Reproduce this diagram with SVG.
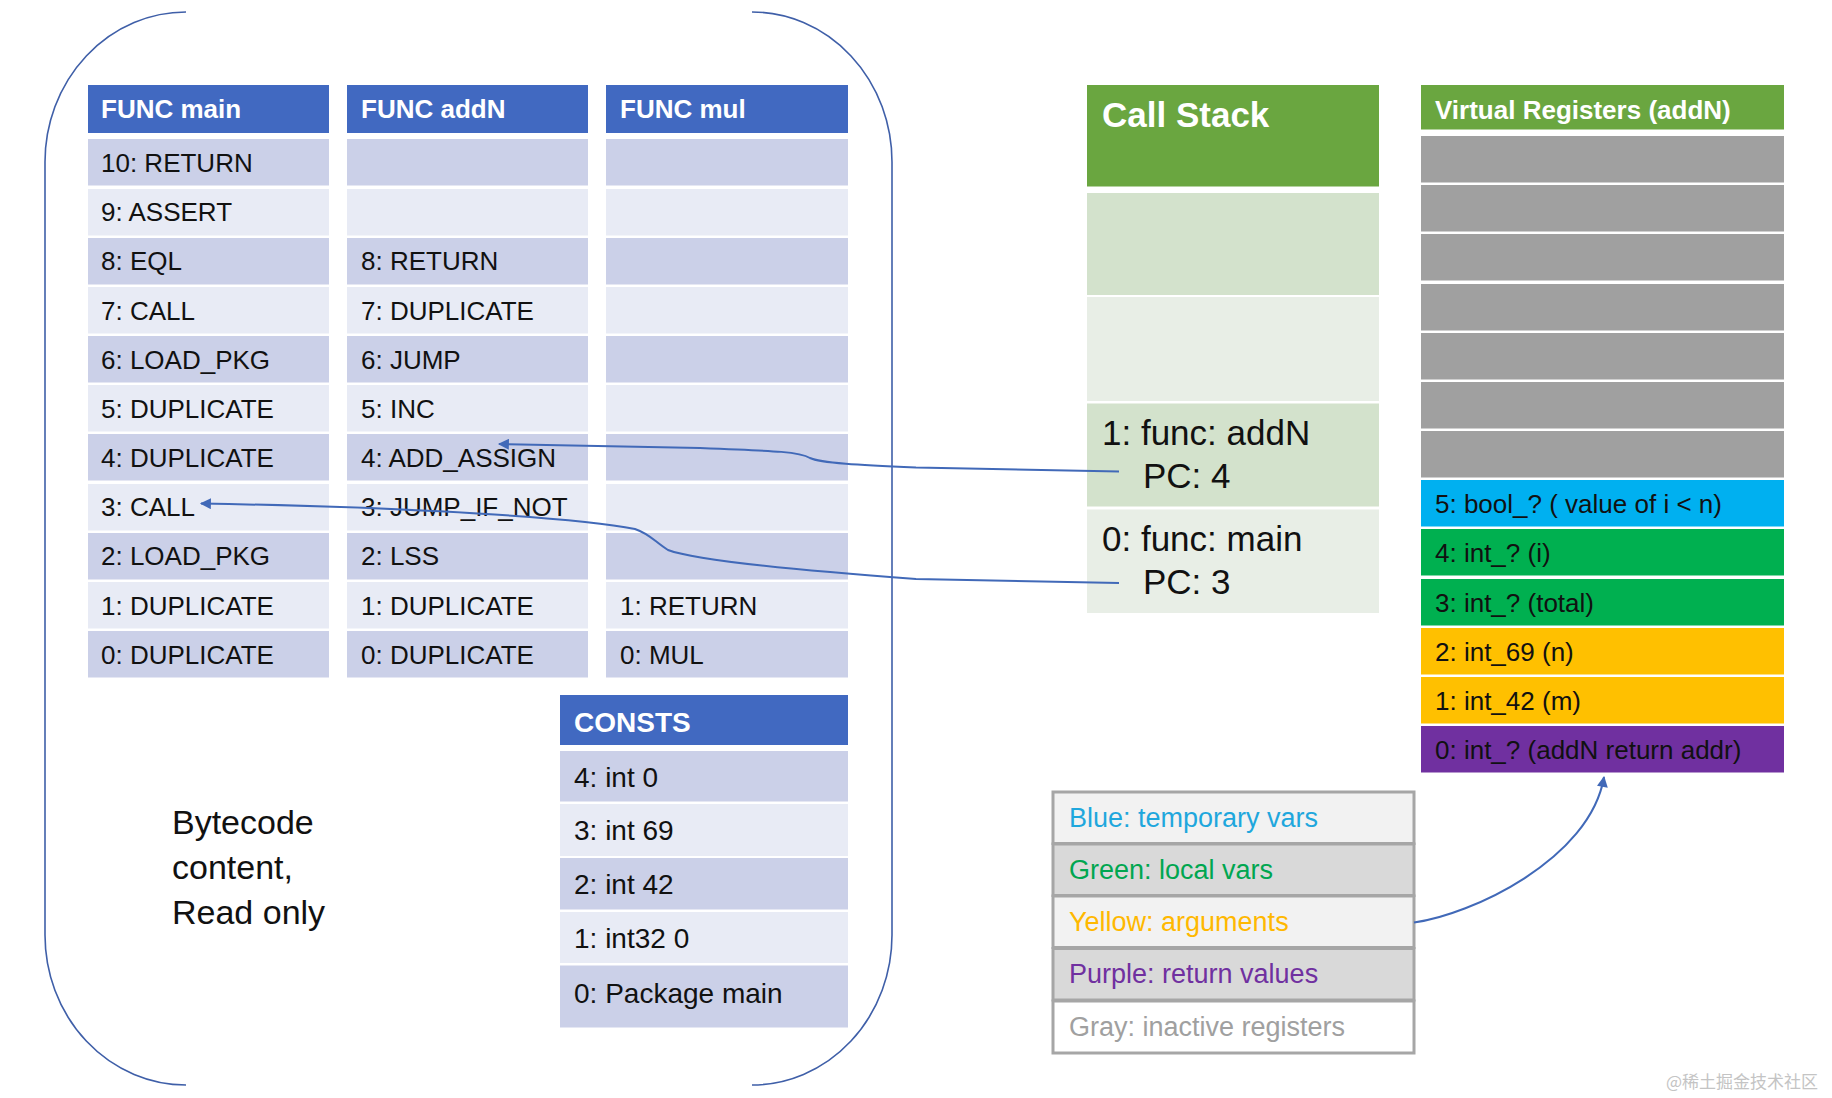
<svg xmlns="http://www.w3.org/2000/svg" width="1832" height="1098" viewBox="0 0 1832 1098">
<defs>
<style>
text{font-family:"Liberation Sans",Arial,sans-serif;}
.hd{fill:#4169C1;}
.hdt{fill:#fff;font-weight:bold;font-size:26px;}
.dk{fill:#CBD0E8;}
.lt{fill:#E8EBF5;}
.op{font-size:26px;fill:#111;}
.ct{font-size:28px;fill:#111;}
.gh{fill:#6AA640;}
.cs1{fill:#D3E2CC;}
.cs2{fill:#E8EEE6;}
.cst{font-size:35px;fill:#111;}
.rg{fill:#A0A0A0;}
.rt{font-size:26px;fill:#111;}
.lg{stroke:#A6A6A6;stroke-width:3;}
.lgt{font-size:27px;}
.br{fill:none;stroke:#3F5FA8;stroke-width:1.6;}
.cn{fill:none;stroke:#4169B8;stroke-width:2;}
</style>
<marker id="ah" viewBox="0 0 10 10" refX="9" refY="5" markerWidth="12" markerHeight="11" markerUnits="userSpaceOnUse" orient="auto">
<path d="M0,0 L10,5 L0,10 z" fill="#4169B8"/>
</marker>
</defs>
<rect width="1832" height="1098" fill="#fff"/>

<g id="bracket">
<path class="br" d="M186,12 A141,150 0 0 0 45,162 L45,935 A141,150 0 0 0 186,1085"/>
<path class="br" d="M752,12 A140,150 0 0 1 892,162 L892,935 A140,150 0 0 1 752,1085"/>
</g>

<g id="func-main">
<rect class="hd" x="88" y="85" width="241" height="48"/>
<text class="hdt" x="101" y="118">FUNC main</text>
<rect class="dk" x="88" y="139" width="241" height="46.5"/>
<rect class="lt" x="88" y="189" width="241" height="46.5"/>
<rect class="dk" x="88" y="238" width="241" height="46.5"/>
<rect class="lt" x="88" y="287" width="241" height="46.5"/>
<rect class="dk" x="88" y="336" width="241" height="46.5"/>
<rect class="lt" x="88" y="385" width="241" height="46.5"/>
<rect class="dk" x="88" y="434" width="241" height="46.5"/>
<rect class="lt" x="88" y="484" width="241" height="46.5"/>
<rect class="dk" x="88" y="533" width="241" height="46.5"/>
<rect class="lt" x="88" y="582" width="241" height="46.5"/>
<rect class="dk" x="88" y="631" width="241" height="46.5"/>
<text class="op" x="101" y="172">10: RETURN</text>
<text class="op" x="101" y="221">9: ASSERT</text>
<text class="op" x="101" y="270">8: EQL</text>
<text class="op" x="101" y="320">7: CALL</text>
<text class="op" x="101" y="369">6: LOAD_PKG</text>
<text class="op" x="101" y="418">5: DUPLICATE</text>
<text class="op" x="101" y="467">4: DUPLICATE</text>
<text class="op" x="101" y="516">3: CALL</text>
<text class="op" x="101" y="565">2: LOAD_PKG</text>
<text class="op" x="101" y="615">1: DUPLICATE</text>
<text class="op" x="101" y="664">0: DUPLICATE</text>
</g>

<g id="func-addN">
<rect class="hd" x="347" y="85" width="241" height="48"/>
<text class="hdt" x="361" y="118">FUNC addN</text>
<rect class="dk" x="347" y="139" width="241" height="46.5"/>
<rect class="lt" x="347" y="189" width="241" height="46.5"/>
<rect class="dk" x="347" y="238" width="241" height="46.5"/>
<rect class="lt" x="347" y="287" width="241" height="46.5"/>
<rect class="dk" x="347" y="336" width="241" height="46.5"/>
<rect class="lt" x="347" y="385" width="241" height="46.5"/>
<rect class="dk" x="347" y="434" width="241" height="46.5"/>
<rect class="lt" x="347" y="484" width="241" height="46.5"/>
<rect class="dk" x="347" y="533" width="241" height="46.5"/>
<rect class="lt" x="347" y="582" width="241" height="46.5"/>
<rect class="dk" x="347" y="631" width="241" height="46.5"/>
<text class="op" x="361" y="270">8: RETURN</text>
<text class="op" x="361" y="320">7: DUPLICATE</text>
<text class="op" x="361" y="369">6: JUMP</text>
<text class="op" x="361" y="418">5: INC</text>
<text class="op" x="361" y="467">4: ADD_ASSIGN</text>
<text class="op" x="361" y="516">3: JUMP_IF_NOT</text>
<text class="op" x="361" y="565">2: LSS</text>
<text class="op" x="361" y="615">1: DUPLICATE</text>
<text class="op" x="361" y="664">0: DUPLICATE</text>
</g>

<g id="func-mul">
<rect class="hd" x="606" y="85" width="242" height="48"/>
<text class="hdt" x="620" y="118">FUNC mul</text>
<rect class="dk" x="606" y="139" width="242" height="46.5"/>
<rect class="lt" x="606" y="189" width="242" height="46.5"/>
<rect class="dk" x="606" y="238" width="242" height="46.5"/>
<rect class="lt" x="606" y="287" width="242" height="46.5"/>
<rect class="dk" x="606" y="336" width="242" height="46.5"/>
<rect class="lt" x="606" y="385" width="242" height="46.5"/>
<rect class="dk" x="606" y="434" width="242" height="46.5"/>
<rect class="lt" x="606" y="484" width="242" height="46.5"/>
<rect class="dk" x="606" y="533" width="242" height="46.5"/>
<rect class="lt" x="606" y="582" width="242" height="46.5"/>
<rect class="dk" x="606" y="631" width="242" height="46.5"/>
<text class="op" x="620" y="615">1: RETURN</text>
<text class="op" x="620" y="664">0: MUL</text>
</g>

<g id="consts">
<rect class="hd" x="560" y="695" width="288" height="50"/>
<text class="hdt" x="574" y="732" style="font-size:28px">CONSTS</text>
<rect class="dk" x="560" y="751" width="288" height="50.5"/>
<rect class="lt" x="560" y="804" width="288" height="52"/>
<rect class="dk" x="560" y="858" width="288" height="51.5"/>
<rect class="lt" x="560" y="912" width="288" height="51"/>
<rect class="dk" x="560" y="965.5" width="288" height="62"/>
<text class="ct" x="574" y="787">4: int 0</text>
<text class="ct" x="574" y="840">3: int 69</text>
<text class="ct" x="574" y="894">2: int 42</text>
<text class="ct" x="574" y="948">1: int32 0</text>
<text class="ct" x="574" y="1003">0: Package main</text>
</g>

<g id="bytecode-label">
<text x="172" y="834" style="font-size:34px" fill="#111">Bytecode</text>
<text x="172" y="879" style="font-size:34px" fill="#111">content,</text>
<text x="172" y="924" style="font-size:34px" fill="#111">Read only</text>
</g>

<g id="call-stack">
<rect class="gh" x="1087" y="85" width="292" height="101.5"/>
<text x="1102" y="127" style="font-size:35px;font-weight:bold" fill="#fff">Call Stack</text>
<rect class="cs1" x="1087" y="193" width="292" height="102"/>
<rect class="cs2" x="1087" y="297" width="292" height="104"/>
<rect class="cs1" x="1087" y="403.5" width="292" height="103"/>
<rect class="cs2" x="1087" y="509.5" width="292" height="103.5"/>
<text class="cst" x="1102" y="445">1: func: addN</text>
<text class="cst" x="1143" y="488">PC: 4</text>
<text class="cst" x="1102" y="551">0: func: main</text>
<text class="cst" x="1143" y="594">PC: 3</text>
</g>

<g id="virtual-registers">
<rect class="gh" x="1421" y="85" width="363" height="44.5"/>
<text x="1435" y="119" style="font-size:26px;font-weight:bold" fill="#fff">Virtual Registers (addN)</text>
<rect class="rg" x="1421" y="136" width="363" height="46.5"/>
<rect class="rg" x="1421" y="185" width="363" height="46.5"/>
<rect class="rg" x="1421" y="234" width="363" height="46.5"/>
<rect class="rg" x="1421" y="284" width="363" height="46.5"/>
<rect class="rg" x="1421" y="333" width="363" height="46.5"/>
<rect class="rg" x="1421" y="382" width="363" height="46.5"/>
<rect class="rg" x="1421" y="431" width="363" height="46.5"/>
<rect x="1421" y="480" width="363" height="46.5" fill="#00B0F0"/>
<rect x="1421" y="529" width="363" height="46.5" fill="#00B050"/>
<rect x="1421" y="579" width="363" height="46.5" fill="#00B050"/>
<rect x="1421" y="628" width="363" height="46.5" fill="#FFC000"/>
<rect x="1421" y="677" width="363" height="46.5" fill="#FFC000"/>
<rect x="1421" y="726" width="363" height="46.5" fill="#7030A0"/>
<text class="rt" x="1435" y="513">5: bool_? ( value of i &lt; n)</text>
<text class="rt" x="1435" y="562">4: int_? (i)</text>
<text class="rt" x="1435" y="612">3: int_? (total)</text>
<text class="rt" x="1435" y="661">2: int_69 (n)</text>
<text class="rt" x="1435" y="710">1: int_42 (m)</text>
<text class="rt" x="1435" y="759">0: int_? (addN return addr)</text>
</g>

<g id="legend">
<rect class="lg" x="1053" y="792" width="361" height="51.5" fill="#F2F2F2"/>
<rect class="lg" x="1053" y="844" width="361" height="51.5" fill="#D9D9D9"/>
<rect class="lg" x="1053" y="896" width="361" height="51.5" fill="#F2F2F2"/>
<rect class="lg" x="1053" y="948.5" width="361" height="51.5" fill="#D9D9D9"/>
<rect class="lg" x="1053" y="1001" width="361" height="52" fill="#FFFFFF"/>
<text class="lgt" x="1069" y="827" fill="#1FA7DD">Blue: temporary vars</text>
<text class="lgt" x="1069" y="879" fill="#00A650">Green: local vars</text>
<text class="lgt" x="1069" y="931" fill="#FFB800">Yellow: arguments</text>
<text class="lgt" x="1069" y="983" fill="#7030A0">Purple: return values</text>
<text class="lgt" x="1069" y="1036" fill="#A0A0A0">Gray: inactive registers</text>
</g>

<g id="connectors">
<path class="cn" marker-end="url(#ah)" d="M1119,471.5 L916,467.5 C860,465 820,463 810,458 C800,452 780,451 700,448 L499,444"/>
<path class="cn" marker-end="url(#ah)" d="M1119,583 L916,579 C820,572 700,562 668,550 C655,542 650,534 635,529 C590,520 450,508 201,503.5"/>
<path class="cn" marker-end="url(#ah)" d="M1414,922.5 C1470,915 1590,860 1604,777"/>
</g>

<text x="1666" y="1088" style="font-family:'Noto Sans CJK SC',sans-serif;font-size:17px" fill="#C4C4C4">@稀土掘金技术社区</text>
</svg>
